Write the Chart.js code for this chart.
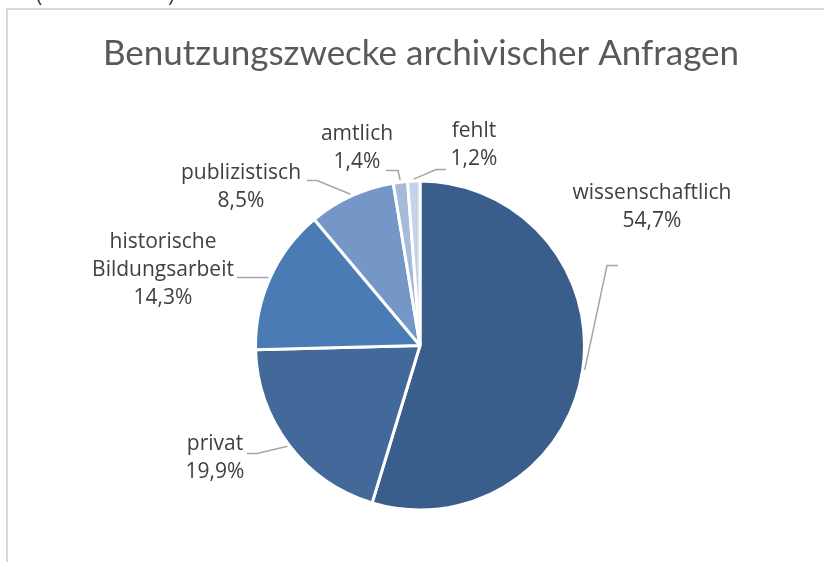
<!DOCTYPE html>
<html><head><meta charset="utf-8">
<script src="https://cdn.jsdelivr.net/npm/chart.js@4"></script>
<style>html,body{margin:0;padding:0;background:#fff;overflow:hidden}</style>
</head><body>
<canvas id="c" width="824" height="562"></canvas>
<script>
// ---- data ----
const chartTitle = 'Benutzungszwecke archivischer Anfragen';
const categories = [['wissenschaftlich'], ['privat'], ['historische', 'Bildungsarbeit'], ['publizistisch'], ['amtlich'], ['fehlt']];
const values = [54.7, 19.9, 14.3, 8.5, 1.4, 1.2];
const colors = ['#3A5E8B', '#43699B', '#4A7BB5', '#7497C8', '#A6BBDB', '#C5D2E9'];

// ---- label layout (offsets from pie centre, px) ----
const labelPos = [
  { tx: 232, ty: -152, elbow: [187, -80], end: [198, -80] },
  { tx: -205, ty: 99, elbow: [-163, 108], end: [-173, 108] },
  { tx: -257, ty: -103, elbow: [-152, -68], end: [-183, -68] },
  { tx: -179, ty: -172, elbow: [-103, -165], end: [-113, -165] },
  { tx: -63, ty: -211, elbow: [-22, -175], end: [-34, -175] },
  { tx: 54, ty: -214, elbow: [16, -176], end: [26, -176] }
];

const fmt = v => v.toFixed(1).replace('.', ',') + '%';

const decor = {
  id: 'decor',
  beforeDraw(chart) {
    const ctx = chart.ctx;
    ctx.save();
    ctx.fillStyle = '#fff';
    ctx.fillRect(0, 0, chart.width, chart.height);
    ctx.strokeStyle = '#D9D9D9';
    ctx.lineWidth = 2;
    ctx.beginPath();
    ctx.moveTo(7, chart.height);
    ctx.lineTo(7, 9);
    ctx.lineTo(chart.width, 9);
    ctx.stroke();
    // cropped caption above the frame
    ctx.fillStyle = '#404040';
    ctx.font = '22px "Open Sans"';
    ctx.textBaseline = 'alphabetic';
    ctx.fillText('(', 36, 2);
    ctx.fillText(')', 168, 2);
    // title
    ctx.fillStyle = '#595959';
    ctx.font = '35px Lato';
    ctx.textAlign = 'center';
    ctx.fillText(chartTitle, 421, 65);
    ctx.restore();
  },
  afterDatasetsDraw(chart) {
    const ctx = chart.ctx;
    const meta = chart.getDatasetMeta(0);
    ctx.save();
    meta.data.forEach((el, i) => {
      const p = el.getProps(['x', 'y', 'startAngle', 'endAngle', 'outerRadius'], true);
      const mid = (p.startAngle + p.endAngle) / 2;
      const ax = p.x + Math.cos(mid) * (p.outerRadius + 2);
      const ay = p.y + Math.sin(mid) * (p.outerRadius + 2);
      const L = labelPos[i];
      ctx.strokeStyle = '#A6A6A6';
      ctx.lineWidth = 1.5;
      ctx.beginPath();
      ctx.moveTo(ax, ay);
      ctx.lineTo(p.x + L.elbow[0], p.y + L.elbow[1]);
      ctx.lineTo(p.x + L.end[0], p.y + L.end[1]);
      ctx.stroke();
      const lines = categories[i].concat([fmt(values[i])]);
      ctx.fillStyle = '#404040';
      ctx.font = '21px "Open Sans"';
      ctx.textAlign = 'center';
      ctx.textBaseline = 'middle';
      lines.forEach((t, k) => ctx.fillText(t, p.x + L.tx, p.y + L.ty + k * 28));
    });
    ctx.restore();
  }
};

new Chart(document.getElementById('c'), {
  type: 'pie',
  data: {
    labels: categories.map(c => c.join(' ')),
    datasets: [{ data: values, backgroundColor: colors, borderColor: '#FFFFFF', borderWidth: 3 }]
  },
  options: {
    responsive: false,
    animation: false,
    layout: { padding: { top: 179, bottom: 50, left: 254, right: 238 } },
    plugins: { legend: { display: false }, tooltip: { enabled: false }, title: { display: false } }
  },
  plugins: [decor]
});
</script>
</body></html>
